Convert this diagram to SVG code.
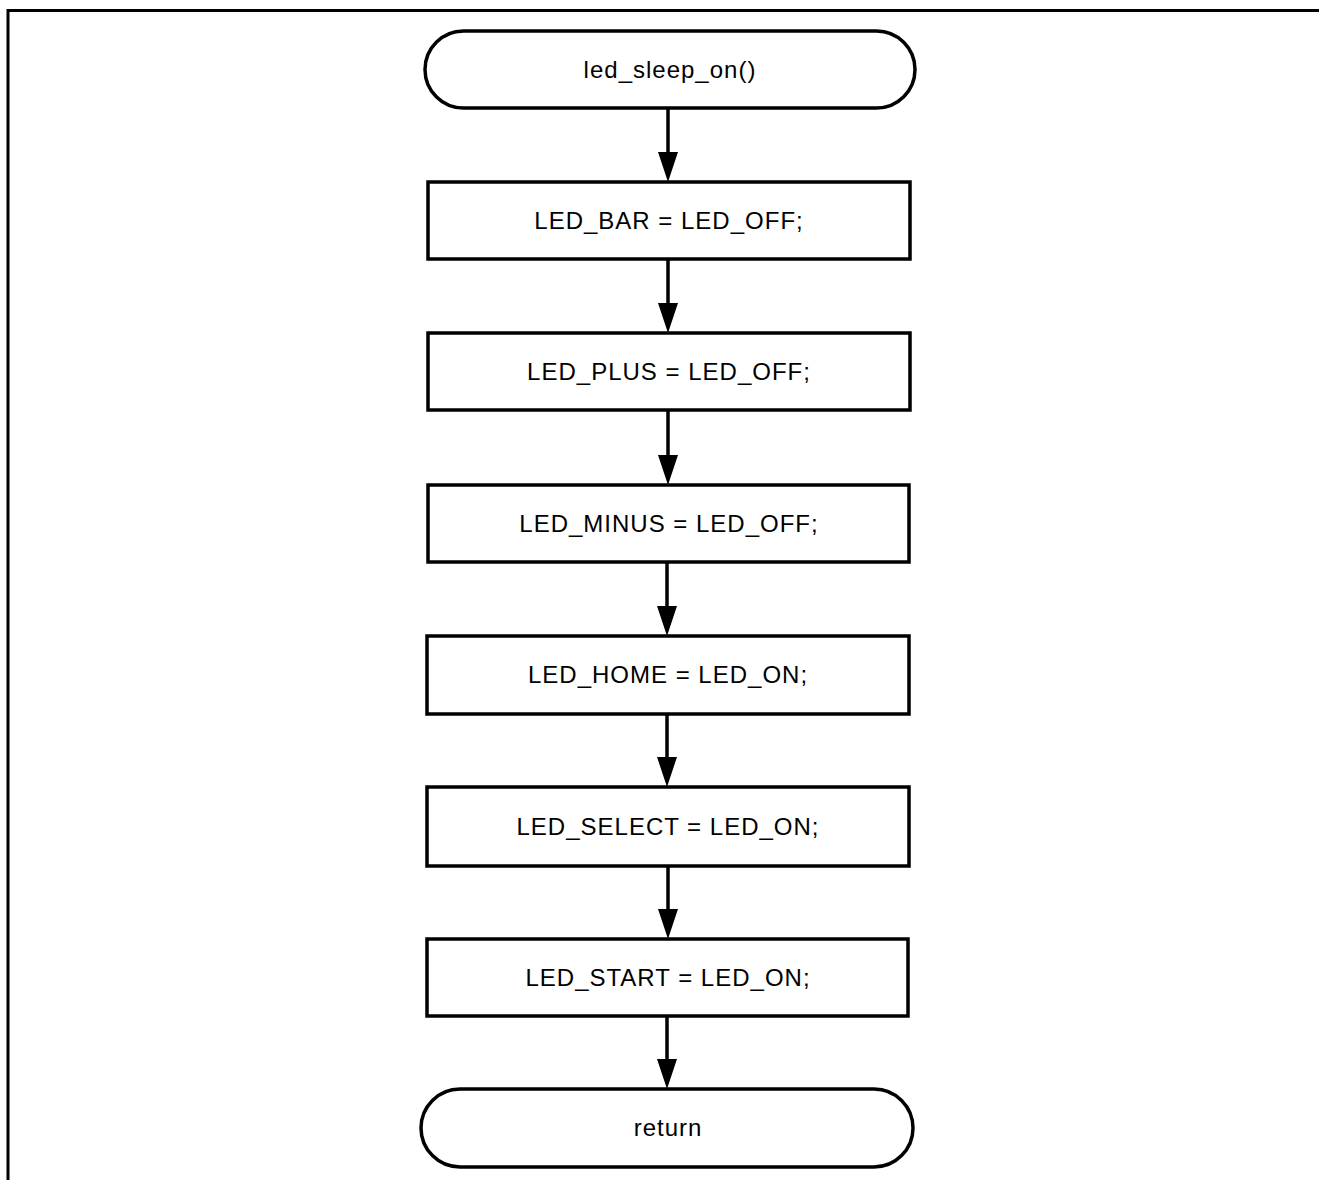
<svg xmlns="http://www.w3.org/2000/svg" width="1319" height="1180" viewBox="0 0 1319 1180">
<style>
.box{fill:#fff;stroke:#000;stroke-width:3.5}
.t{font-family:"Liberation Sans",Arial,sans-serif;font-size:24px;letter-spacing:1px;text-anchor:middle;fill:#000}
.c{stroke:#000;stroke-width:3.5;fill:none}
</style>
<rect width="1319" height="1180" fill="#fff"/>
<path d="M8,1180 V10.5 H1319" fill="none" stroke="#000" stroke-width="3"/>
<g id="connectors">
<path class="c" d="M668,108 V152"/><path d="M658,152 L678,152 L668,182 Z"/>
<path class="c" d="M668,259 V303"/><path d="M658,303 L678,303 L668,333 Z"/>
<path class="c" d="M668,410 V455"/><path d="M658,455 L678,455 L668,485 Z"/>
<path class="c" d="M667,562 V606"/><path d="M657,606 L677,606 L667,636 Z"/>
<path class="c" d="M667,714 V757"/><path d="M657,757 L677,757 L667,787 Z"/>
<path class="c" d="M668,866 V909"/><path d="M658,909 L678,909 L668,939 Z"/>
<path class="c" d="M667,1016 V1059"/><path d="M657,1059 L677,1059 L667,1089 Z"/>
</g>
<g id="start"><rect class="box" x="425" y="31" width="490" height="77" rx="38.5"/><text class="t" x="670" y="78">led_sleep_on()</text></g>
<g id="n1"><rect class="box" x="428" y="182" width="482" height="77"/><text class="t" x="669" y="229">LED_BAR = LED_OFF;</text></g>
<g id="n2"><rect class="box" x="428" y="333" width="482" height="77"/><text class="t" x="669" y="380">LED_PLUS = LED_OFF;</text></g>
<g id="n3"><rect class="box" x="428" y="485" width="481" height="77"/><text class="t" x="669" y="532">LED_MINUS = LED_OFF;</text></g>
<g id="n4"><rect class="box" x="427" y="636" width="482" height="78"/><text class="t" x="668" y="683">LED_HOME = LED_ON;</text></g>
<g id="n5"><rect class="box" x="427" y="787" width="482" height="79"/><text class="t" x="668" y="835">LED_SELECT = LED_ON;</text></g>
<g id="n6"><rect class="box" x="427" y="939" width="481" height="77"/><text class="t" x="668" y="986">LED_START = LED_ON;</text></g>
<g id="end"><rect class="box" x="421" y="1089" width="492" height="78" rx="39"/><text class="t" x="668" y="1136">return</text></g>
</svg>
